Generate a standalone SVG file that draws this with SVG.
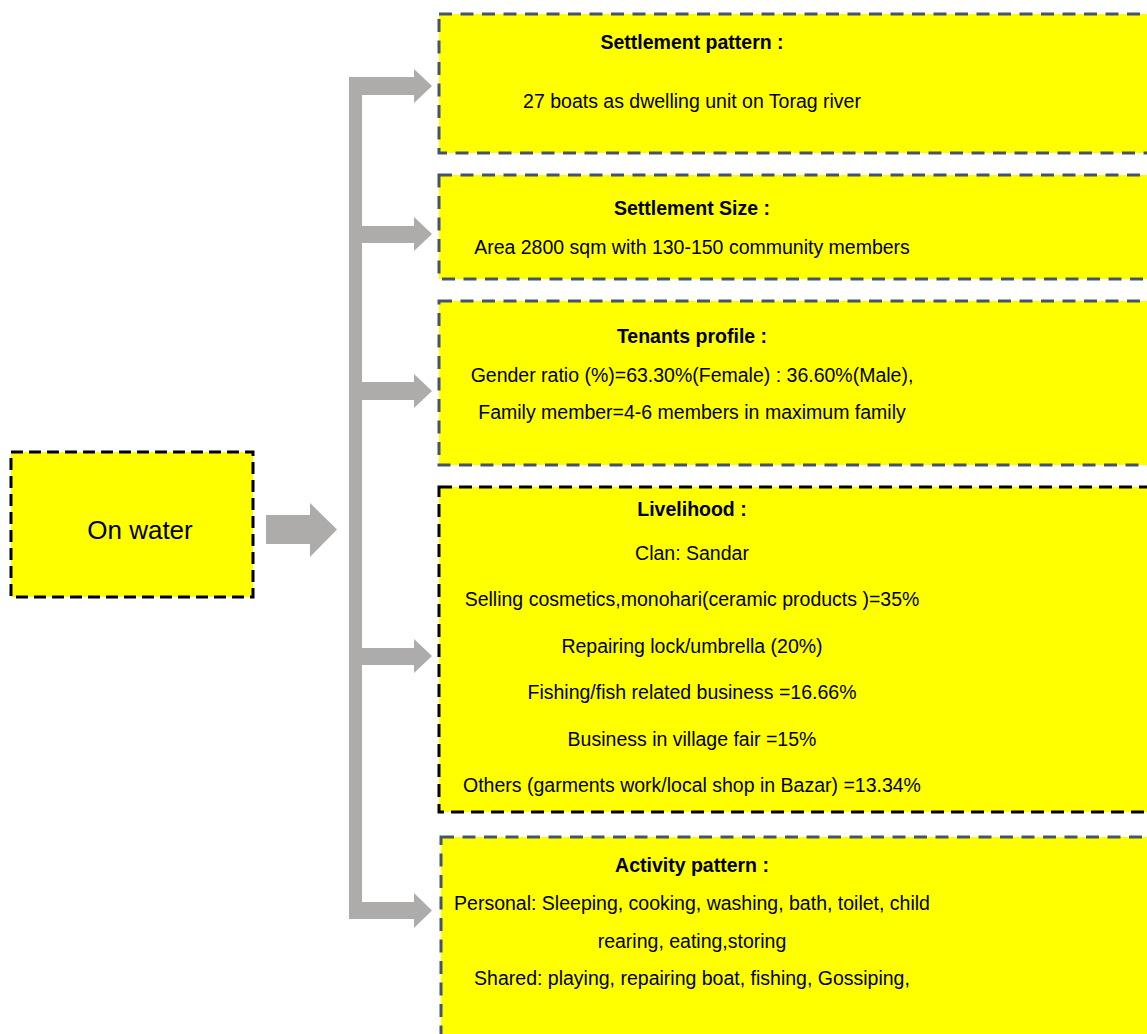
<svg xmlns="http://www.w3.org/2000/svg" width="1147" height="1034" viewBox="0 0 1147 1034">
  <style>
    .box { fill: #FFFF00; stroke-width: 3; }
    .slate { stroke: #44546A; stroke-dasharray: 13 8.5; }
    .black { stroke: #000000; stroke-dasharray: 13 7; }
    .arrow { fill: #AEABAB; }
    text { font-family: "Liberation Sans", Arial, sans-serif; font-size: 19.5px; fill: #000; text-anchor: middle; }
    .head { font-weight: bold; }
  </style>
  <rect width="1147" height="1034" fill="#FFFFFF"/>

  <!-- source node -->
  <g id="on-water">
    <rect class="box" x="11" y="452" width="242" height="145" stroke="#000" stroke-width="4" stroke-dasharray="12 6"/>
    <text x="140" y="539" style="font-size:26px">On water</text>
  </g>

  <!-- connectors: main arrow and bracket with branch arrows -->
  <g id="connectors" class="arrow">
    <polygon points="266,515 310,515 310,503 337,529.5 310,557 310,544 266,544"/>
    <rect x="349" y="77" width="13" height="842"/>
    <polygon points="349,77 414,77 414,69 432,86 414,103 414,95 349,95"/>
    <polygon points="362,226 414,226 414,217 432,234 414,251 414,243 362,243"/>
    <polygon points="362,382 414,382 414,374 432,391 414,408 414,400 362,400"/>
    <polygon points="362,648 414,648 414,639 432,656 414,673 414,665 362,665"/>
    <polygon points="349,902 414,902 414,893 432,910.5 414,928 414,919 349,919"/>
  </g>

  <g id="settlement-pattern">
    <rect class="box slate" x="439" y="14" width="730" height="139"/>
    <text class="head" x="692" y="49">Settlement pattern :</text>
    <text x="692" y="108">27 boats as dwelling unit on Torag river</text>
  </g>

  <g id="settlement-size">
    <rect class="box slate" x="439" y="175" width="730" height="104"/>
    <text class="head" x="692" y="215">Settlement Size :</text>
    <text x="692" y="254">Area 2800 sqm with 130-150 community members</text>
  </g>

  <g id="tenants-profile">
    <rect class="box slate" x="439" y="301" width="730" height="164"/>
    <text class="head" x="692" y="343">Tenants profile :</text>
    <text x="692" y="382">Gender ratio (%)=63.30%(Female) : 36.60%(Male),</text>
    <text x="692" y="419">Family member=4-6 members in maximum family</text>
  </g>

  <g id="livelihood">
    <rect class="box black" x="439" y="487" width="730" height="325"/>
    <text class="head" x="692" y="516">Livelihood :</text>
    <text x="692" y="560">Clan: Sandar</text>
    <text x="692" y="606">Selling cosmetics,monohari(ceramic products )=35%</text>
    <text x="692" y="653">Repairing lock/umbrella (20%)</text>
    <text x="692" y="699">Fishing/fish related business =16.66%</text>
    <text x="692" y="746">Business in village fair =15%</text>
    <text x="692" y="792">Others (garments work/local shop in Bazar) =13.34%</text>
  </g>

  <g id="activity-pattern">
    <rect class="box slate" x="441" y="837" width="730" height="220"/>
    <text class="head" x="692" y="872">Activity pattern :</text>
    <text x="692" y="910">Personal: Sleeping, cooking, washing, bath, toilet, child</text>
    <text x="692" y="948">rearing, eating,storing</text>
    <text x="692" y="985">Shared: playing, repairing boat, fishing, Gossiping,</text>
  </g>
</svg>
